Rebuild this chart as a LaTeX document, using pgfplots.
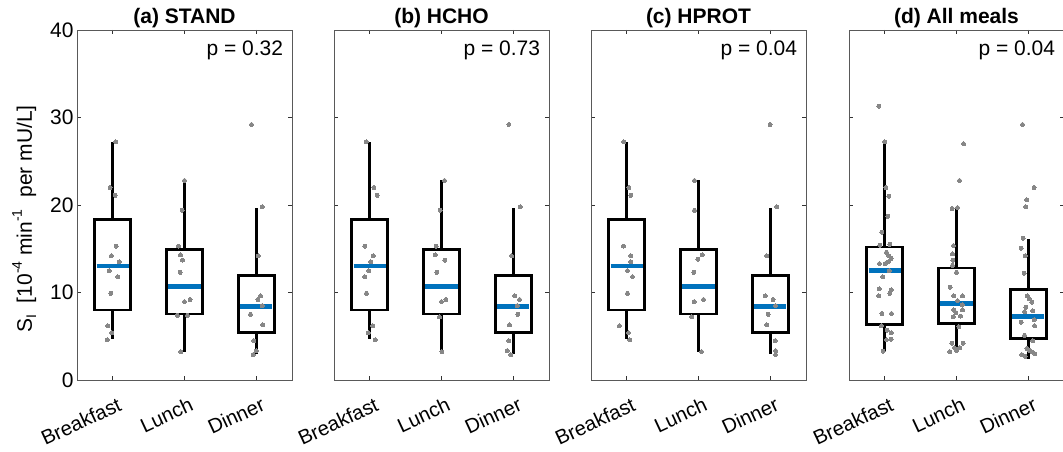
\documentclass[border=0pt]{standalone}
\usepackage{fontspec}
\setmainfont{Liberation Sans}
\usepackage{pgfplots}
\pgfplotsset{compat=1.18}
\usepgfplotslibrary{statistics}
\usepackage{pgfplotstable}
\definecolor{mblue}{RGB}{0,114,189}
\definecolor{ptgray}{RGB}{135,135,135}

\pgfplotstableread{
x y
1.042 27.2
0.963 22.0
1.033 21.1
1.047 15.3
0.981 14.2
1.089 13.5
0.949 12.5
1.070 11.8
0.972 9.9
0.930 6.2
0.986 5.4
0.921 4.6
2.000 22.8
1.967 19.4
1.916 15.3
1.944 14.3
1.972 13.7
1.939 12.3
2.000 8.95
2.079 9.2
2.042 7.4
1.902 7.4
1.949 3.24
2.935 29.2
3.084 19.8
3.028 14.2
3.061 9.6
3.023 9.2
3.084 8.5
2.921 7.5
3.093 6.3
2.967 4.5
3.000 3.35
2.958 2.9
}\ptsA

\pgfplotstableread{
x y
0.949 27.2
1.056 22.0
1.103 21.1
0.930 15.3
1.047 14.2
1.014 13.5
0.986 12.5
0.930 11.8
0.953 9.9
1.042 6.2
0.977 5.4
1.075 4.6
2.042 22.8
1.981 19.4
1.925 15.3
1.911 14.3
2.047 13.7
1.935 12.3
2.061 9.2
2.000 8.95
1.972 7.2
2.005 3.24
2.939 29.2
3.098 19.8
2.977 14.2
3.023 9.6
3.089 9.2
3.056 8.5
3.065 7.5
2.949 6.3
2.939 4.5
2.916 3.35
2.967 2.9
}\ptsB

\pgfplotstableread{
x y
0.958 27.2
1.028 22.0
1.056 21.1
0.953 15.3
1.056 14.2
1.056 13.5
1.009 12.5
1.079 11.8
1.009 9.9
0.897 6.2
1.023 5.4
1.042 4.6
1.944 22.8
1.944 19.4
1.991 13.8
2.051 14.3
1.935 12.3
2.070 9.2
1.939 8.95
1.907 7.2
2.042 3.24
3.000 29.2
3.093 19.8
2.953 14.2
2.930 9.6
3.042 9.2
3.075 8.5
2.972 7.5
2.953 6.3
3.070 4.5
3.075 3.35
3.075 2.9
}\ptsC

\pgfplotstableread{
x y
0.916 31.3
1.000 27.2
1.014 22.0
1.056 21.0
1.042 18.7
0.958 16.9
0.930 15.4
1.070 15.5
1.023 14.6
1.056 14.2
1.089 13.9
1.047 13.5
1.005 13.3
0.925 13.3
1.061 12.5
0.972 11.8
0.921 10.4
1.089 10.3
1.070 9.9
0.916 9.6
0.958 7.6
1.093 7.6
0.953 6.2
1.033 5.7
1.089 5.4
1.089 4.65
1.023 4.6
0.977 3.3
2.098 27.0
2.042 22.8
1.939 19.6
2.014 19.7
1.958 15.35
1.944 14.4
1.949 13.7
1.944 13.1
2.000 12.3
1.911 10.6
1.963 9.6
2.084 9.6
2.014 9.06
2.079 8.6
1.963 8.0
1.991 7.7
2.084 8.0
2.056 7.3
1.953 7.2
2.033 6.1
1.935 4.2
2.093 4.2
1.972 3.7
2.047 3.7
1.907 3.24
2.000 3.4
2.921 29.2
3.084 22.0
2.981 20.6
2.967 19.8
2.930 16.2
2.902 15.05
2.958 14.2
2.944 12.2
2.986 9.6
3.014 9.3
3.051 8.9
2.967 8.3
2.949 7.8
3.065 7.9
3.084 6.9
3.089 6.2
2.902 6.6
2.949 5.1
3.065 4.5
2.911 2.9
2.958 2.7
2.981 3.6
3.051 3.2
3.093 3.0
3.014 3.4
}\ptsD

\pgfplotsset{
  panel/.style={
    scale only axis, width=215pt, height=350pt,
    xmin=0.5, xmax=3.5, ymin=0, ymax=40,
    xtick={1,2,3}, xticklabels={Breakfast,Lunch,Dinner},
    ytick={0,10,20,30,40},
    tick align=inside, xtick pos=both, ytick pos=both,
    major tick length=4pt,
    tick style={black!80, line width=0.7pt},
    axis line style={black!65, line width=0.8pt},
    /pgf/number format/assume math mode=true,
    tick label style={font=\fontsize{21}{24}\selectfont},
    x tick label style={font=\fontsize{20.2}{23}\selectfont, rotate=25, anchor=north east, yshift=-13pt, xshift=0pt},
    title style={font=\fontsize{21}{24}\selectfont\bfseries, yshift=-7pt},
    boxplot/draw direction=y,
    boxplot/box extend=0.5,
    boxplot/whisker extend=0,
    boxplot/every median/.style={draw=mblue, line width=4.5pt, shorten <=1.6pt, shorten >=1.6pt},
    boxplot/every box/.style={draw=black, line width=2.9pt, line join=miter},
    boxplot/every whisker/.style={draw=black, line width=2.9pt},
  },
  pts/.style={only marks, color=ptgray, mark=*, mark size=2pt, mark options={solid, draw=ptgray, fill=ptgray, line width=0pt}},
  bx/.style={draw=black, line width=2.9pt, mark=none, solid},
}

\newcommand{\ptext}[1]{\node[anchor=east, font=\fontsize{21}{24}\selectfont] at (rel axis cs:0.975,0.943) {p = #1};}

\newcommand{\threeboxes}{%
  \addplot[bx, boxplot prepared={draw position=1, lower whisker=4.65, lower quartile=8.0, median=13.0, upper quartile=18.3, upper whisker=27.2}] coordinates {};
  \addplot[bx, boxplot prepared={draw position=2, lower whisker=3.24, lower quartile=7.54, median=10.7, upper quartile=14.9, upper whisker=22.8}] coordinates {};
  \addplot[bx, boxplot prepared={draw position=3, lower whisker=2.93, lower quartile=5.4, median=8.38, upper quartile=11.96, upper whisker=19.7}] coordinates {};
}

\begin{document}
\begin{tikzpicture}
\path[use as bounding box] (0,0) rectangle (1063pt,452pt);

\begin{axis}[panel, at={(77pt,72pt)}, anchor=south west, title={(a) STAND},
  ylabel={S\raisebox{-0.4ex}{\fontsize{14}{14}\selectfont I}\ \ [10\raisebox{0.9ex}{\fontsize{14}{14}\selectfont -4} min\raisebox{0.9ex}{\fontsize{14}{14}\selectfont -1} \ per mU/L]},
  ylabel style={font=\fontsize{21}{24}\selectfont, yshift=7pt, xshift=-14pt}]
\addplot[pts] table[x=x,y=y] {\ptsA};
\threeboxes
\ptext{0.32}
\end{axis}

\begin{axis}[panel, at={(334pt,72pt)}, anchor=south west, title={(b) HCHO}, yticklabels={}]
\addplot[pts] table[x=x,y=y] {\ptsB};
\threeboxes
\ptext{0.73}
\end{axis}

\begin{axis}[panel, at={(591pt,72pt)}, anchor=south west, title={(c) HPROT}, yticklabels={}]
\addplot[pts] table[x=x,y=y] {\ptsC};
\threeboxes
\ptext{0.04}
\end{axis}

\begin{axis}[panel, at={(849pt,72pt)}, anchor=south west, title={(d) All meals}, yticklabels={}]
\addplot[pts] table[x=x,y=y] {\ptsD};
\addplot[bx, boxplot prepared={draw position=1, lower whisker=3.35, lower quartile=6.3, median=12.5, upper quartile=15.2, upper whisker=27.2}] coordinates {};
\addplot[bx, boxplot prepared={draw position=2, lower whisker=3.3, lower quartile=6.5, median=8.77, upper quartile=12.8, upper whisker=19.7}] coordinates {};
\addplot[bx, boxplot prepared={draw position=3, lower whisker=2.4, lower quartile=4.76, median=7.23, upper quartile=10.3, upper whisker=16.1}] coordinates {};
\ptext{0.04}
\end{axis}
\end{tikzpicture}
\end{document}
